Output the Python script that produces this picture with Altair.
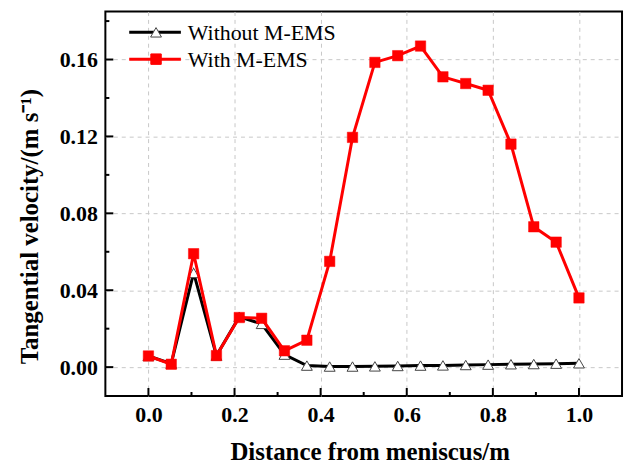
import altair as alt
import pandas as pd

# ---- data ----
distance = [0.0, 0.053, 0.105, 0.158, 0.211, 0.263, 0.316, 0.368, 0.421, 0.474,
            0.526, 0.579, 0.632, 0.684, 0.737, 0.789, 0.842, 0.895, 0.947, 1.0]
without_mems = [0.0058, 0.0018, 0.0490, 0.0060, 0.0262, 0.0225, 0.0065, 0.0008, 0.0003, 0.0003,
                0.0004, 0.0006, 0.0008, 0.0009, 0.0011, 0.0013, 0.0015, 0.0016, 0.0018, 0.0020]
with_mems = [0.0058, 0.0015, 0.0590, 0.0060, 0.0258, 0.0254, 0.0085, 0.0140, 0.0550, 0.1195,
             0.1585, 0.1620, 0.1670, 0.1510, 0.1475, 0.1440, 0.1160, 0.0730, 0.0650, 0.0360]
series_names = ["Without M-EMS", "With M-EMS"]
x_major = [0.0, 0.2, 0.4, 0.6, 0.8, 1.0]
x_minor = [0.1, 0.3, 0.5, 0.7, 0.9]
y_major = [0.0, 0.04, 0.08, 0.12, 0.16]
y_minor = [0.02, 0.06, 0.10, 0.14, 0.18]

W, H = 520, 387
FONT = "Liberation Serif"

df_wo = pd.DataFrame({"d": distance, "v": without_mems})
df_w = pd.DataFrame({"d": distance, "v": with_mems})

xscale = alt.Scale(domain=[-0.1, 1.1], nice=False, zero=False)
yscale = alt.Scale(domain=[-0.015, 0.185], nice=False, zero=False)

xaxis = alt.Axis(title="Distance from meniscus/m", values=x_major, format=".1f",
                 ticks=False, domain=False, grid=True, gridDash=[4, 4], gridColor="#c8c8c8",
                 gridWidth=1, labelFont=FONT, labelFontSize=22, labelFontWeight="bold",
                 labelColor="black", labelPadding=9, titleFont=FONT, titleFontSize=25,
                 titleFontWeight="bold", titleColor="black", titleX=266, titleY=64,
                 titleBaseline="alphabetic")
yaxis = alt.Axis(title="Tangential velocity/(m s\u207b\u00b9)", values=y_major, format=".2f",
                 ticks=False, domain=False, grid=True, gridDash=[4, 4], gridColor="#c8c8c8",
                 gridWidth=1, labelFont=FONT, labelFontSize=22, labelFontWeight="bold",
                 labelColor="black", labelPadding=8, titleFont=FONT, titleFontSize=25,
                 titleFontWeight="bold", titleColor="black", titleX=-68, titleY=216,
                 titleBaseline="alphabetic")

X = alt.X("d:Q", scale=xscale, axis=xaxis)
Y = alt.Y("v:Q", scale=yscale, axis=yaxis)

base_wo = alt.Chart(df_wo)
base_w = alt.Chart(df_w)

line_wo = base_wo.mark_line(color="black", strokeWidth=3).encode(x=X, y=Y)
pts_wo = base_wo.mark_point(shape="triangle-up", filled=True, fill="white", stroke="#444444",
                            strokeWidth=1, size=120, opacity=1).encode(x=X, y=Y)
line_w = base_w.mark_line(color="#ff0000", strokeWidth=3).encode(x=X, y=Y)
pts_w = base_w.mark_point(shape="square", filled=True, fill="#ff0000", stroke="#ff0000",
                          strokeWidth=0.5, size=110, opacity=1).encode(x=X, y=Y)

# inward ticks
def yticks(vals, length):
    return alt.Chart(pd.DataFrame({"v": vals})).mark_rule(color="black", strokeWidth=2).encode(
        y=Y, x=alt.value(0), x2=alt.value(length))

def xticks(vals, length):
    return alt.Chart(pd.DataFrame({"d": vals})).mark_rule(color="black", strokeWidth=2).encode(
        x=X, y=alt.value(H), y2=alt.value(H - length))

# manual legend
leg = pd.DataFrame({"label": series_names})
def legend_row(label, ypix, color, shape, fill, stroke, size):
    d = alt.Chart(leg).transform_filter(alt.datum.label == label)
    ln = d.mark_rule(color=color, strokeWidth=3).encode(
        x=alt.value(24), x2=alt.value(76), y=alt.value(ypix))
    pt = d.mark_point(shape=shape, filled=True, fill=fill, stroke=stroke, strokeWidth=1,
                      size=size, opacity=1).encode(x=alt.value(51), y=alt.value(ypix))
    tx = d.mark_text(align="left", baseline="middle", font=FONT, fontSize=22,
                     color="black").encode(x=alt.value(83), y=alt.value(ypix + 1), text="label:N")
    return [ln, pt, tx]

layers = [line_wo, pts_wo, line_w, pts_w,
          yticks(y_major, 8), yticks(y_minor, 4), xticks(x_major, 8), xticks(x_minor, 4)]
layers += legend_row(series_names[0], 21, "black", "triangle-up", "white", "#444444", 120)
layers += legend_row(series_names[1], 48, "#ff0000", "square", "#ff0000", "#ff0000", 110)

chart = alt.layer(*layers).properties(
    width=W, height=H,
    background="white",
    autosize=alt.AutoSizeParams(type="none"),
    padding={"left": 98, "top": 2, "right": 4, "bottom": 68},
).configure_view(stroke="black", strokeWidth=2)

chart.save("out.html", embed_options={"renderer": "svg", "actions": False})
